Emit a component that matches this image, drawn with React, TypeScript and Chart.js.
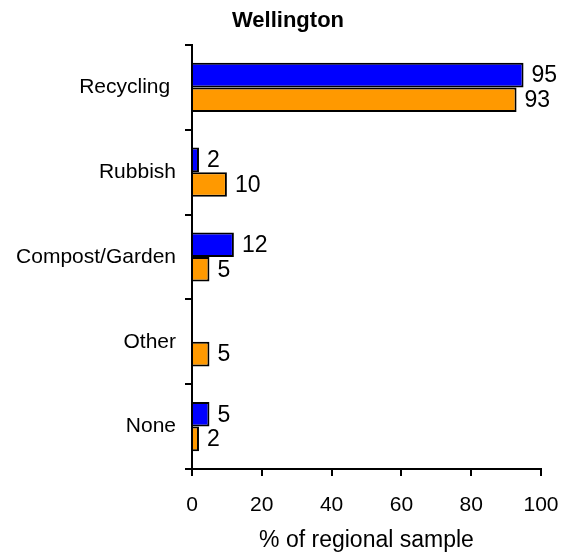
import React, { useEffect, useRef } from "react";
import { Chart, registerables } from "chart.js";

Chart.register(...registerables);

const categories = ["Recycling ", "Rubbish", "Compost/Garden", "Other", "None"];
const seriesBlue: (number | null)[] = [95, 2, 12, null, 5];
const seriesOrange: (number | null)[] = [93, 10, 5, 5, 2];
const xMin = 0;
const xMax = 100;
const xStep = 20;
const chartTitle = "Wellington";
const xTitle = "% of regional sample";

const FONT = "'Liberation Sans', Arial, Helvetica, sans-serif";

const valueLabels = {
  id: "valueLabels",
  afterDatasetsDraw(chart: any) {
    const ctx = chart.ctx;
    ctx.save();
    ctx.font = `23px ${FONT}`;
    ctx.fillStyle = "#000";
    ctx.textAlign = "left";
    ctx.textBaseline = "middle";
    chart.data.datasets.forEach((ds: any, i: number) => {
      const meta = chart.getDatasetMeta(i);
      meta.data.forEach((el: any, j: number) => {
        const v = ds.data[j];
        if (v == null) return;
        ctx.fillText(String(v), el.x + 8, el.y + 1);
      });
    });
    ctx.restore();
  },
};

const titleText = {
  id: "titleText",
  afterDraw(chart: any) {
    const ctx = chart.ctx;
    ctx.save();
    ctx.font = `bold 22px ${FONT}`;
    ctx.fillStyle = "#000";
    ctx.textAlign = "center";
    ctx.textBaseline = "middle";
    ctx.fillText(chartTitle, 288, 21);
    ctx.restore();
  },
};

export default function App() {
  const ref = useRef<HTMLCanvasElement | null>(null);

  useEffect(() => {
    if (!ref.current) return;
    const chart = new Chart(ref.current, {
      type: "bar",
      data: {
        labels: categories,
        datasets: [
          {
            label: "Series 1",
            data: seriesBlue,
            backgroundColor: "#0000FF",
            borderColor: "#000000",
            borderWidth: 2,
            categoryPercentage: 0.58,
            barPercentage: 1,
          },
          {
            label: "Series 2",
            data: seriesOrange,
            backgroundColor: "#FF9900",
            borderColor: "#000000",
            borderWidth: 2,
            categoryPercentage: 0.58,
            barPercentage: 1,
          },
        ],
      },
      options: {
        indexAxis: "y",
        responsive: false,
        animation: false,
        layout: { padding: { left: 0, right: 27, top: 45, bottom: 0 } },
        plugins: {
          legend: { display: false },
          tooltip: { enabled: false },
          title: { display: false },
        },
        scales: {
          y: {
            type: "category",
            grid: {
              offset: true,
              drawOnChartArea: false,
              drawTicks: true,
              tickLength: 7,
              color: "#000",
              lineWidth: 2,
            },
            border: { color: "#000", width: 2 },
            ticks: {
              color: "#000",
              font: { family: FONT, size: 21 },
              padding: 9,
            },
            afterFit: (s: any) => {
              s.width = 192;
              s.paddingTop = 0;
              s.paddingBottom = 0;
            },
          },
          x: {
            type: "linear",
            min: xMin,
            max: xMax,
            grid: {
              drawOnChartArea: false,
              drawTicks: true,
              tickLength: 7,
              color: "#000",
              lineWidth: 2,
            },
            border: { color: "#000", width: 2 },
            ticks: {
              stepSize: xStep,
              color: "#000",
              font: { family: FONT, size: 21 },
              padding: 17,
            },
            title: {
              display: true,
              text: xTitle,
              color: "#000",
              font: { family: FONT, size: 23 },
              padding: { top: 0, bottom: 2 },
            },
            afterFit: (s: any) => {
              s.height = 87;
              s.paddingLeft = 0;
              s.paddingRight = 0;
            },
          },
        },
      },
      plugins: [valueLabels, titleText],
    });
    return () => chart.destroy();
  }, []);

  return (
    <div style={{ position: "absolute", left: 0, top: 0, width: 568, height: 556 }}>
      <canvas ref={ref} width={568} height={556} style={{ display: "block" }} />
    </div>
  );
}
